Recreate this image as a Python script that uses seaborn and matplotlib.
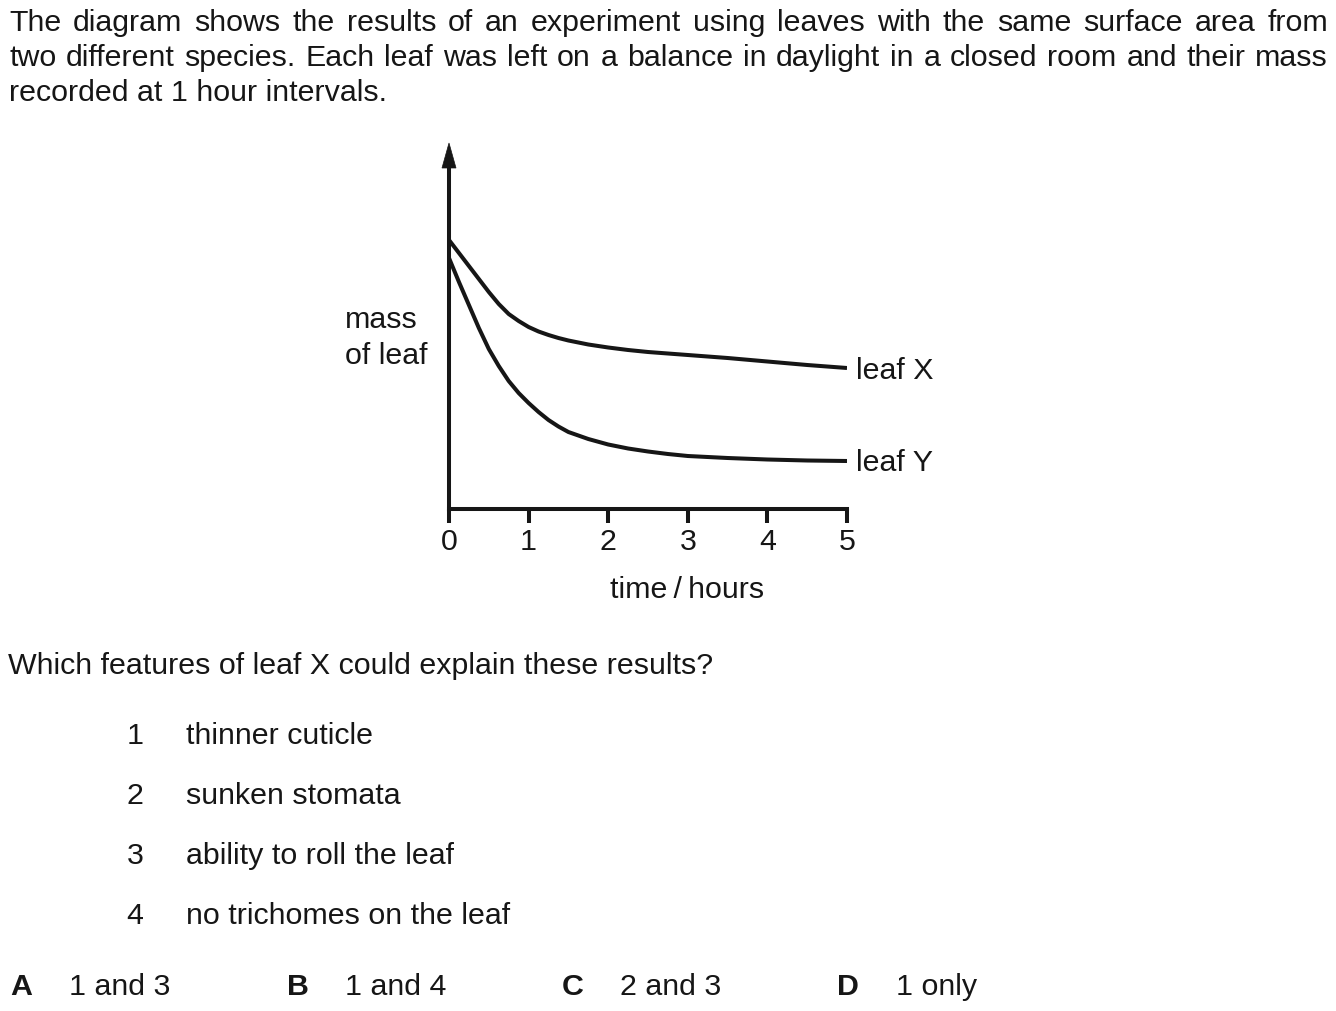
import matplotlib
matplotlib.use("Agg")
import matplotlib.pyplot as plt
import seaborn as sns
import pandas as pd
from matplotlib.patches import Polygon
from matplotlib.transforms import IdentityTransform

# ---------------- data (mass in arbitrary units) ----------------
time_hours = [0, 0.125, 0.25, 0.375, 0.5, 0.625, 0.75, 0.875, 1, 1.125, 1.25, 1.375, 1.5,
              1.75, 2, 2.25, 2.5, 2.75, 3, 3.5, 4, 4.5, 5]
mass_leaf_x = [269, 256, 243, 230, 217, 205, 195, 188, 182, 177.5, 174, 171, 168.5,
               164.5, 161.5, 159, 157, 155.5, 154, 151, 147.5, 144, 141]
mass_leaf_y = [251, 227, 204, 181, 160, 143, 128, 116, 106, 97, 89, 82.5, 77,
               70, 64.5, 60.5, 57.5, 55, 53, 51, 49.5, 48.5, 48]
series_labels = ["leaf X", "leaf Y"]
x_ticks = [0, 1, 2, 3, 4, 5]

intro_lines = [
    "The diagram shows the results of an experiment using leaves with the same surface area from",
    "two different species. Each leaf was left on a balance in daylight in a closed room and their mass",
    "recorded at 1 hour intervals.",
]
question = "Which features of leaf X could explain these results?"
item_numbers = ["1", "2", "3", "4"]
item_texts = ["thinner cuticle", "sunken stomata", "ability to roll the leaf", "no trichomes on the leaf"]
answer_letters = ["A", "B", "C", "D"]
answer_texts = ["1 and 3", "1 and 4", "2 and 3", "1 only"]
y_label_lines = ["mass", "of leaf"]
x_label = "time\u2009/\u2009hours"

# ---------------- style ----------------
sns.set_theme(style="white")
FAM = ["Liberation Sans", "DejaVu Sans"]
plt.rcParams["font.family"] = FAM
INK = "#161616"
FS = 21.9  # pt

W, H = 1336, 1011
fig = plt.figure(figsize=(W / 100, H / 100), dpi=100)
fig.patch.set_facecolor("white")


def fx(px):
    return px / W


def fy(py):
    return 1 - py / H


# axes: x=0 at px 449, x=5 at px 847; baseline at py 509, top of axis at py 167
ax = fig.add_axes([fx(449), fy(509), fx(847) - fx(449), (509 - 167) / H])
ax.set_facecolor("none")

df = pd.DataFrame({
    "time": time_hours * 2,
    "mass": mass_leaf_x + mass_leaf_y,
    "leaf": [series_labels[0]] * len(time_hours) + [series_labels[1]] * len(time_hours),
})
sns.lineplot(data=df, x="time", y="mass", hue="leaf", palette=[INK, INK],
             linewidth=2.9, legend=False, ax=ax, estimator=None, sort=True)
for ln in ax.lines:
    ln.set_solid_capstyle("butt")
    ln.set_solid_joinstyle("round")

ax.set_xlim(0, 5)
ax.set_ylim(0, 342)
ax.set_xlabel("")
ax.set_ylabel("")
ax.set_xticks(x_ticks)
ax.set_xticklabels([str(t) for t in x_ticks])
ax.set_yticks([])
for s in ["top", "right"]:
    ax.spines[s].set_visible(False)
for s in ["left", "bottom"]:
    ax.spines[s].set_visible(True)
    ax.spines[s].set_color(INK)
    ax.spines[s].set_linewidth(2.9)
    ax.spines[s].set_capstyle("projecting")
ax.tick_params(axis="x", direction="out", length=10, width=2.9, color=INK,
               pad=3.5, labelsize=FS, labelcolor=INK, bottom=True)
ax.grid(False)

# arrow head on the y axis
fig.add_artist(Polygon([[442, H - 168], [456, H - 168], [449, H - 143]], closed=True,
                       facecolor=INK, edgecolor=INK, lw=0.5, transform=IdentityTransform()))

# labels for the curves, y axis, x axis
fig.text(fx(856), fy(379), series_labels[0], fontsize=FS, color=INK, va="baseline", ha="left")
fig.text(fx(856), fy(471), series_labels[1], fontsize=FS, color=INK, va="baseline", ha="left")
fig.text(fx(345), fy(328), y_label_lines[0], fontsize=FS, color=INK, va="baseline", ha="left")
fig.text(fx(345), fy(364), y_label_lines[1], fontsize=FS, color=INK, va="baseline", ha="left")
fig.text(fx(687), fy(598), x_label, fontsize=FS, color=INK, va="baseline", ha="center")

# ---------------- justified intro paragraph ----------------
renderer = fig.canvas.get_renderer()
left_px, right_px = 9, 1328
baselines = [31, 66, 101]
for i, line in enumerate(intro_lines):
    if i < 2:
        words = line.split(" ")
        widths = []
        for w in words:
            t = fig.text(0, 0, w, fontsize=FS)
            widths.append(t.get_window_extent(renderer).width)
            t.remove()
        gap = (right_px - left_px - sum(widths)) / (len(words) - 1)
        x = left_px
        for w, wd in zip(words, widths):
            fig.text(fx(x), fy(baselines[i]), w, fontsize=FS, color=INK, va="baseline", ha="left")
            x += wd + gap
    else:
        fig.text(fx(left_px), fy(baselines[i]), line, fontsize=FS, color=INK, va="baseline", ha="left")

# ---------------- question and options ----------------
fig.text(fx(8), fy(674), question, fontsize=FS, color=INK, va="baseline", ha="left")
item_base = [744, 804, 864, 924]
for n, txt, b in zip(item_numbers, item_texts, item_base):
    fig.text(fx(135), fy(b), n, fontsize=FS, color=INK, va="baseline", ha="center")
    fig.text(fx(186), fy(b), txt, fontsize=FS, color=INK, va="baseline", ha="left")

letter_x = [10, 287, 562, 837]
answer_x = [69, 345, 620, 896]
for L, A, lx, axx in zip(answer_letters, answer_texts, letter_x, answer_x):
    fig.text(fx(lx), fy(995), L, fontsize=FS, color=INK, va="baseline", ha="left", fontweight="bold")
    fig.text(fx(axx), fy(995), A, fontsize=FS, color=INK, va="baseline", ha="left")

fig.savefig("out.png", dpi=100, facecolor="white")
